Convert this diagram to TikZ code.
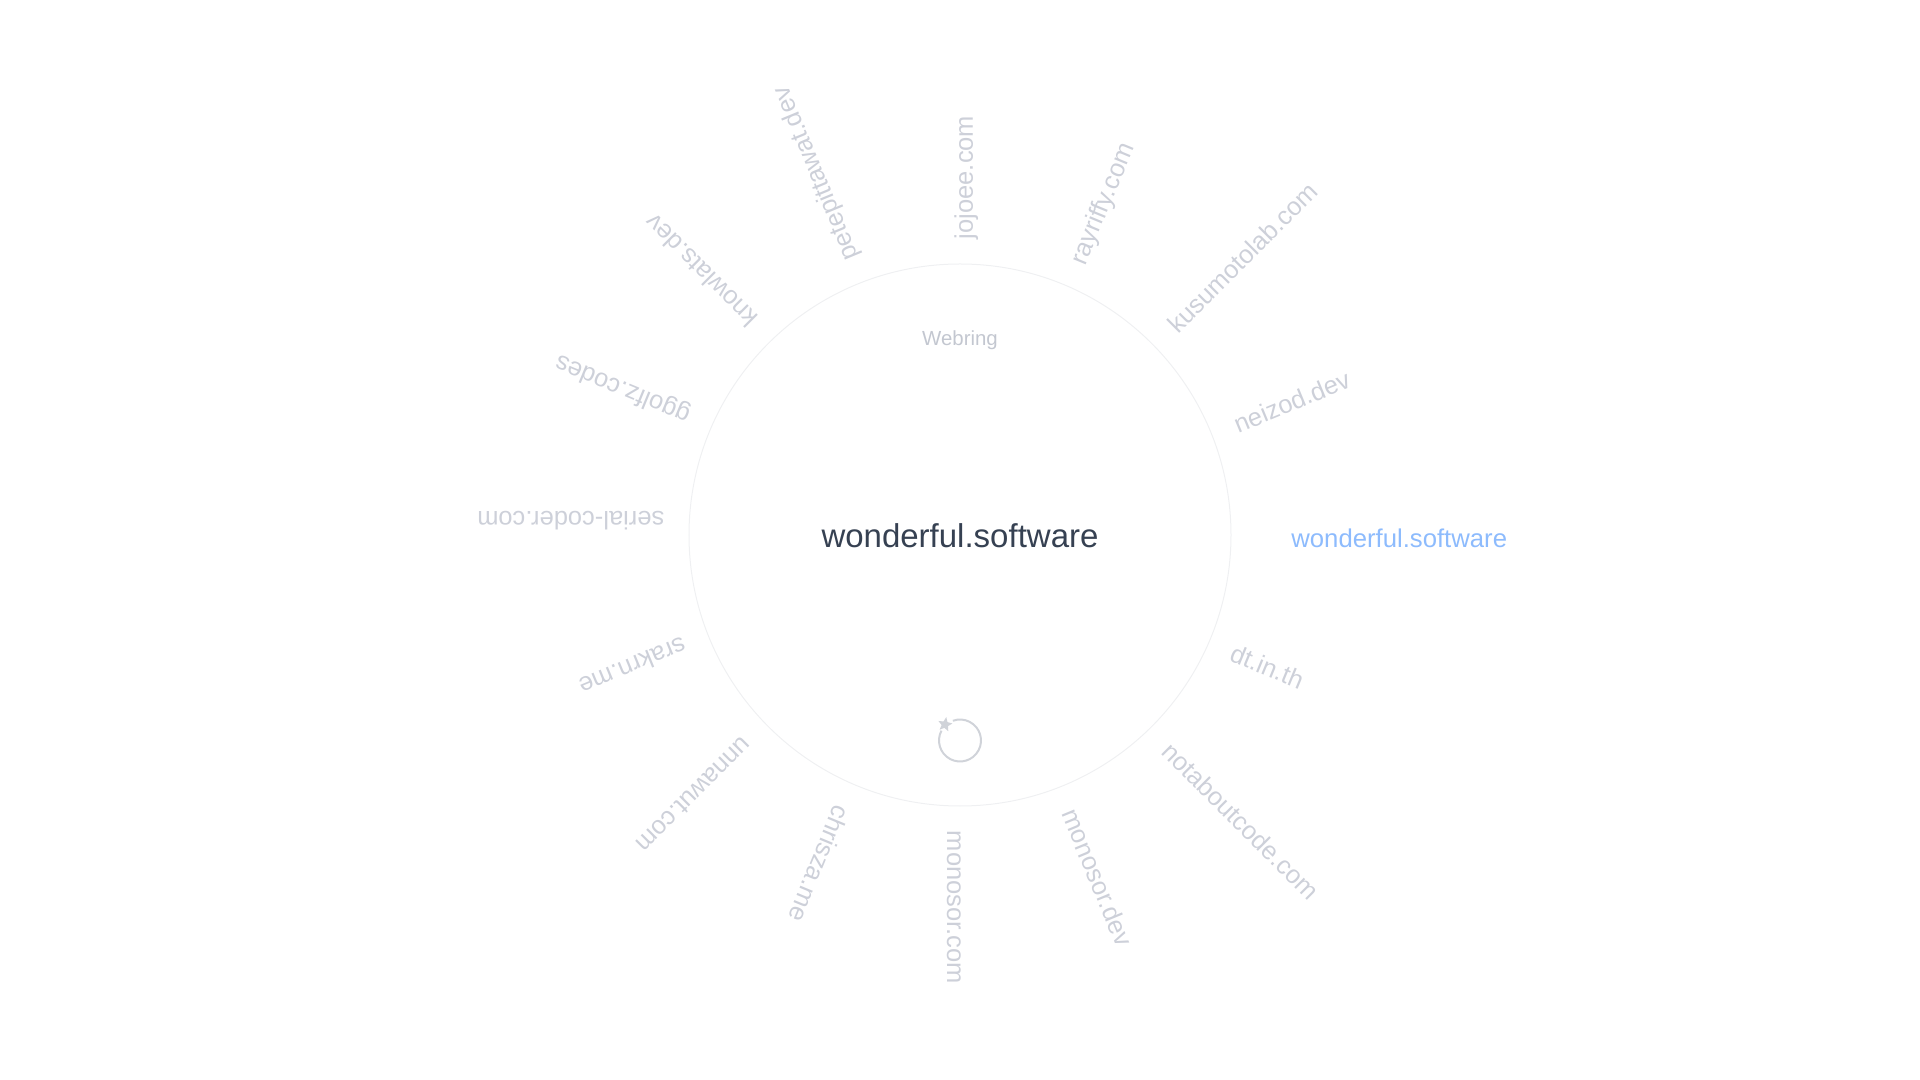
\documentclass[tikz,border=0pt]{standalone}
\usepackage{fontspec}
\setmainfont{Liberation Sans}
\usepackage{xcolor}
\usetikzlibrary{shapes.geometric}
\definecolor{sitegray}{HTML}{CDD0D9}
\definecolor{siteblue}{HTML}{8DBBFD}
\definecolor{hubdark}{HTML}{364152}
\definecolor{webgray}{HTML}{C3C7D0}
\definecolor{ringgray}{HTML}{EFF0F2}
\definecolor{icongray}{HTML}{D0D3D9}

\begin{document}
\begin{tikzpicture}[
  x=0.5pt, y=0.5pt,
  site/.style={anchor=base west, inner sep=0pt, text=sitegray,
               font=\fontsize{12.75}{15}\selectfont},
  hublabel/.style={inner sep=0pt, text=hubdark, font=\fontsize{16.5}{19}\selectfont},
]
\useasboundingbox (-960,-545) rectangle (960,535);

%% ---- Ring ----
\node[circle, draw=ringgray, line width=0.5pt, inner sep=0pt,
      minimum size=271pt] (ring) at (0,0) {};

%% ---- Middle ----
\node[hublabel] (hub) at (0,-1) {wonderful.software};
\node[hublabel, text=webgray, font=\fontsize{10.2}{12}\selectfont] (webring) at (0,195) {Webring};

%% ---- Sites ----
\node[site, rotate=0, text=siteblue, font=\fontsize{12.85}{15}\selectfont] (wonderful) at (-2.1:331.2) {wonderful.software};
\node[site, rotate=22.5]  (neizod)   at (20:295.8)  {neizod.dev};
\node[site, rotate=45]    (kusumoto) at (42.5:295.8)  {kusumotolab.com};
\node[site, rotate=67.5]  (rayriffy) at (65:295.8)  {rayriffy.com};
\node[site, rotate=90]    (jojoee)   at (87.5:295.8)  {jojoee.com};
\node[site, rotate=112.5] (pete)     at (110:295.8) {petepittawat.dev};
\node[site, rotate=135]   (knowlats) at (132.5:295.8) {knowlats.dev};
\node[site, rotate=157.5] (ggolfz)   at (155:295.8) {ggolfz.codes};
\node[site, rotate=180]   (serial)   at (175.4:296.2) {serial-coder.com};
\node[site, rotate=202.5] (srakrn)  at (200:295.8) {srakrn.me};
\node[site, rotate=225]   (unnawut) at (222.5:295.8) {unnawut.com};
\node[site, rotate=247.5] (chrisza) at (245:295.8) {chrisza.me};
\node[site, rotate=270]   (monocom) at (267.5:295.8) {monosor.com};
\node[site, rotate=292.5] (monodev) at (290:295.8) {monosor.dev};
\node[site, rotate=315]   (notabout) at (312.5:295.8) {notaboutcode.com};
\node[site, rotate=337.5] (dtinth)  at (335:295.8) {dt.in.th};

%% ---- Icon ----
\coordinate (spin) at (0,-205.5);
\draw[icongray, line width=1pt] (spin) ++(152:21) arc[start angle=152, end angle=470, radius=21];
\node[star, star points=5, star point ratio=2.2, fill=icongray, inner sep=0pt,
      minimum size=7.5pt, rotate=-10] (spark) at (-15,-189.5) {};

\end{tikzpicture}
\end{document}
